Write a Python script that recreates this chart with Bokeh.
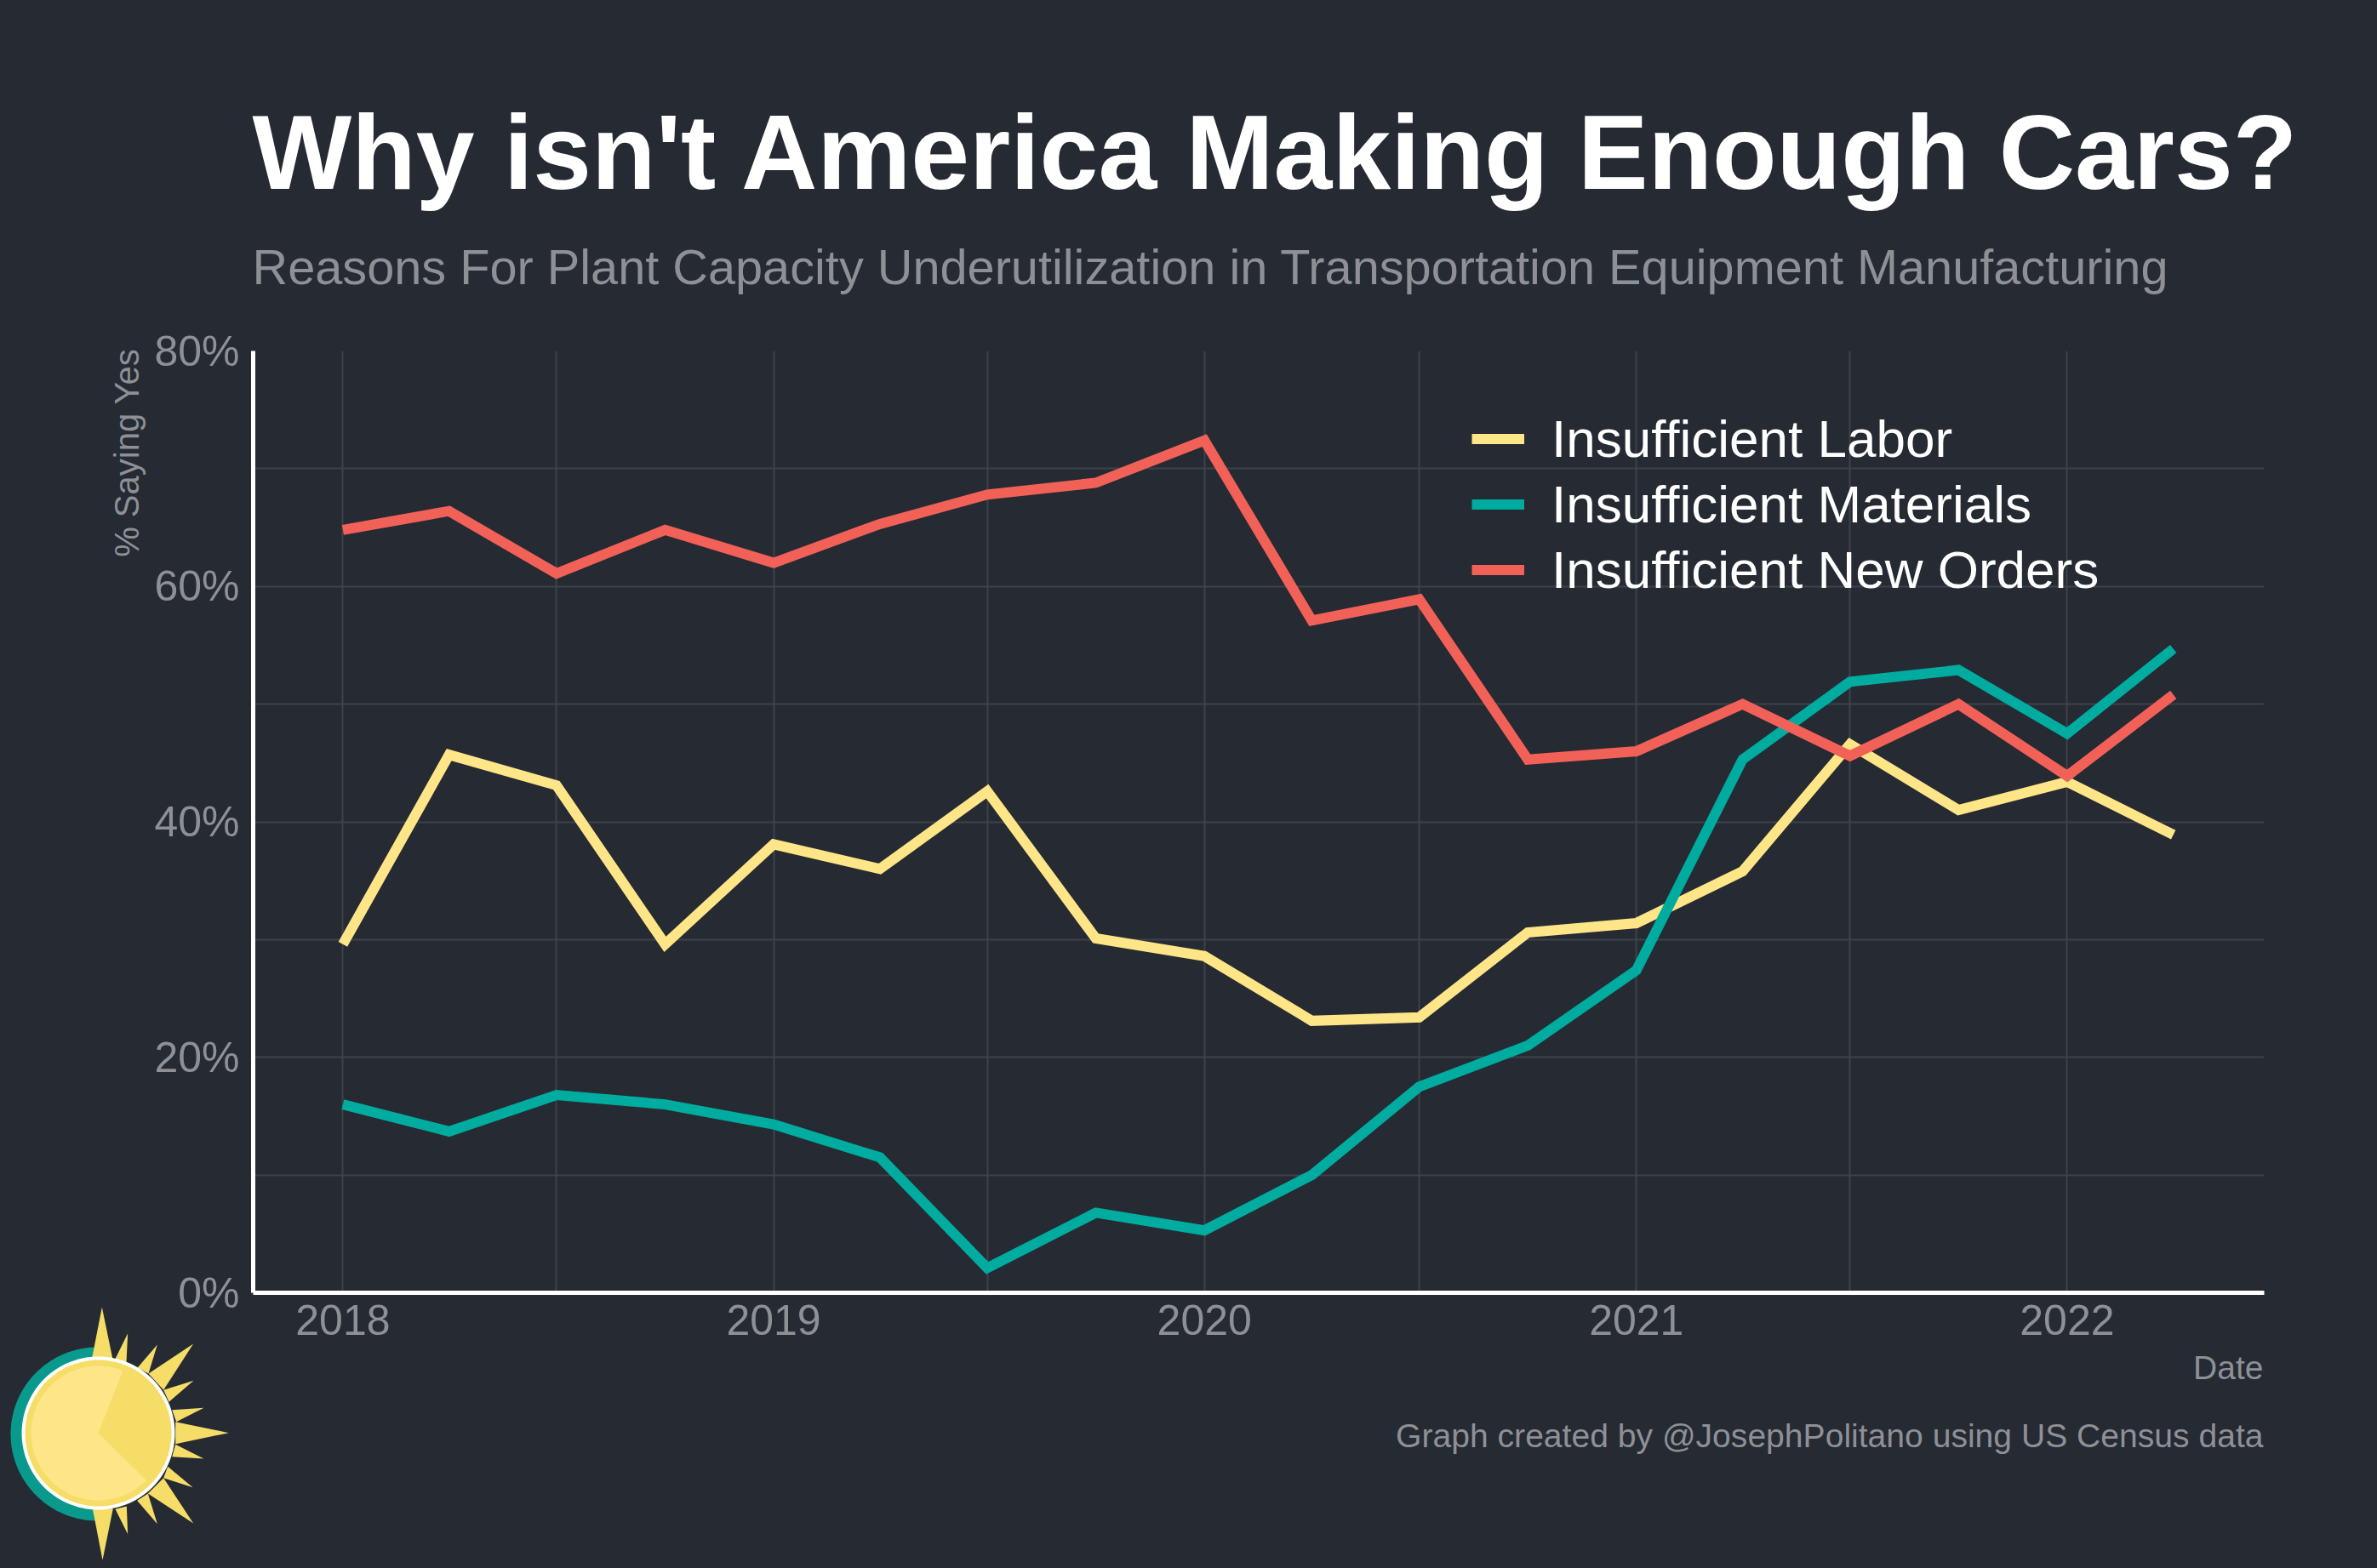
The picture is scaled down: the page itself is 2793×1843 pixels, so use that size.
import numpy as np
import pandas as pd
from bokeh.core.properties import value
from bokeh.embed import file_html
from bokeh.layouts import column
from bokeh.resources import INLINE
from bokeh.plotting import figure
from bokeh.models import (ColumnDataSource, FixedTicker, Legend, LegendItem,
                          PrintfTickFormatter, DatetimeTickFormatter, Range1d)

quarters = ["2018-01-01", "2018-04-01", "2018-07-01", "2018-10-01",
            "2019-01-01", "2019-04-01", "2019-07-01", "2019-10-01",
            "2020-01-01", "2020-04-01", "2020-07-01", "2020-10-01",
            "2021-01-01", "2021-04-01", "2021-07-01", "2021-10-01",
            "2022-01-01", "2022-04-01"]
labor = [29.6, 45.7, 43.1, 29.6, 38.1, 36.0, 42.6, 30.1, 28.6, 23.1, 23.4, 30.6,
         31.4, 35.8, 46.6, 41.0, 43.4, 38.9]
materials = [16.0, 13.7, 16.8, 16.0, 14.3, 11.5, 2.1, 6.8, 5.3, 10.0, 17.5, 21.0,
             27.4, 45.3, 51.9, 52.9, 47.5, 54.7]
new_orders = [64.8, 66.4, 61.1, 64.8, 62.0, 65.3, 67.8, 68.8, 72.4, 57.1, 58.9, 45.3,
              46.0, 50.0, 45.6, 50.0, 43.9, 50.8]
series_names = ["Insufficient Labor", "Insufficient Materials", "Insufficient New Orders"]
year_ticks = ["2018-01-01", "2019-01-01", "2020-01-01", "2021-01-01", "2022-01-01"]
half_ticks = ["2018-07-01", "2019-07-01", "2020-07-01", "2021-07-01"]
pct_ticks = [0, 20, 40, 60, 80]
pct_minor = [10, 30, 50, 70]

TITLE = "Why isn't America Making Enough Cars?"
SUBTITLE = "Reasons For Plant Capacity Underutilization in Transportation Equipment Manufacturing"
CAPTION = "Graph created by @JosephPolitano using US Census data"
X_LABEL = "Date"
Y_LABEL = "% Saying Yes"

BG = "#252a33"
GRID = "#3e424b"
GREY = "#8e9096"
YELLOW = "#fee587"
TEAL = "#00ab9f"
RED = "#f26158"
FONT = "Liberation Sans"

L, T, R, B = 297, 412, 2660, 1519   # frame edges on the page
W, H = 2793, 1843

def ms(d):
    return pd.Timestamp(d).value / 1e6

p = figure(width=W, height=H, output_backend="svg", toolbar_location=None,
           x_axis_type="datetime",
           x_range=Range1d(ms("2017-10-17"), ms("2022-06-17")),
           y_range=Range1d(0, 80), frame_align=False,
           min_border_left=L, min_border_right=W-R, min_border_top=T, min_border_bottom=H-B,
           background_fill_color=BG, border_fill_color=BG, outline_line_color=None)

src = ColumnDataSource(dict(date=pd.to_datetime(quarters), labor=labor,
                            materials=materials, orders=new_orders))
kw = dict(line_width=12, line_join="miter", line_cap="butt")
r1 = p.line("date", "labor", source=src, line_color=YELLOW, **kw)
r2 = p.line("date", "materials", source=src, line_color=TEAL, **kw)
r3 = p.line("date", "orders", source=src, line_color=RED, **kw)

xa, ya = p.xaxis[0], p.yaxis[0]
xa.ticker = FixedTicker(ticks=[ms(d) for d in year_ticks], minor_ticks=[ms(d) for d in half_ticks])
ya.ticker = FixedTicker(ticks=pct_ticks, minor_ticks=pct_minor)
xa.formatter = DatetimeTickFormatter(years="%Y", months="%Y", days="%Y", hours="%Y",
                                     minutes="%Y", seconds="%Y", milliseconds="%Y")
ya.formatter = PrintfTickFormatter(format="%d%%")
for ax in (xa, ya):
    ax.axis_line_color = "white"
    ax.axis_line_width = 5
    ax.major_tick_line_color = None
    ax.minor_tick_line_color = None
    ax.major_label_text_color = GREY
    ax.major_label_text_font = FONT
    ax.major_label_text_font_size = "50px"
xa.major_label_standoff = 8
ya.major_label_standoff = 10

for g in (p.xgrid[0], p.ygrid[0]):
    g.grid_line_color = GRID
    g.grid_line_width = 2
    g.minor_grid_line_color = GRID
    g.minor_grid_line_width = 2

legend = Legend(items=[LegendItem(label=series_names[0], renderers=[r1]),
                       LegendItem(label=series_names[1], renderers=[r2]),
                       LegendItem(label=series_names[2], renderers=[r3])],
                location=(1729-L, B-708), background_fill_alpha=0, border_line_color=None,
                label_text_color="white", label_text_font=FONT, label_text_font_size="62px",
                glyph_width=62, glyph_height=77, label_height=77, label_standoff=32,
                spacing=0, margin=0, padding=0)
p.add_layout(legend)

# Transparent page-sized layer for the titles, caption, axis names and logo
ov = figure(width=W, height=H, output_backend="svg", toolbar_location=None,
            x_range=Range1d(0, W), y_range=Range1d(H, 0), frame_align=False,
            x_axis_location=None, y_axis_location=None,
            min_border_left=0, min_border_right=0, min_border_top=0, min_border_bottom=0,
            background_fill_alpha=0, border_fill_alpha=0, outline_line_color=None,
            margin=(-H, 0, 0, 0))
ov.grid.visible = False

BASE = 0.35  # the glyph's alphabetic baseline sits this many em below its anchor

def text(x, y, s, size, color, align="left", style="normal", angle=0):
    d = BASE * size
    px, py = (x - d, y) if angle else (x, y - d)
    ov.text([px], [py], text=[s], angle=angle, text_font=value(FONT),
            text_font_size=value(f"{size}px"), text_color=color, text_align=align,
            text_baseline="alphabetic", text_font_style=style)

text(296, 222, TITLE, 123.7, "white", style="bold")
text(296, 334, SUBTITLE, 57.7, GREY)
text(2659, 1701, CAPTION, 39.1, GREY, align="right")
text(2659, 1621, X_LABEL, 39, GREY, align="right")
text(162, 409, Y_LABEL, 40, GREY, align="right", angle=np.pi/2)

def poly(xs, ys, color):
    ov.patch(list(xs), list(ys), fill_color=color, line_color=None)

def disc(cx, cy, r, a0=0, a1=360, center=False):
    t = np.radians(np.linspace(a0, a1, 121))
    xs, ys = cx + r*np.cos(t), cy + r*np.sin(t)
    if center:
        xs, ys = np.r_[cx, xs], np.r_[cy, ys]
    return xs, ys

# Sun logo in zoom px (3x, origin at page 0,1480)
SUN = "#f5dd68"
def z(pts):
    a = np.array(pts, float)
    return a[:, 0]/3, a[:, 1]/3 + 1480

rays = [[(358,168),(322,352),(396,352)], [(449,260),(404,352),(444,362)],
        [(553,300),(483,382),(522,402)], [(680,297),(522,402),(575,460)],
        [(681,427),(575,460),(594,502)], [(717,523),(605,530),(620,572)],
        [(805,611),(617,572),(617,650)], [(717,702),(617,652),(605,695)],
        [(678,803),(590,730),(575,770)], [(680,930),(575,770),(520,825)],
        [(553,932),(520,825),(482,850)], [(449,968),(445,870),(405,880)],
        [(360,1060),(325,878),(397,878)]]
cx, cy = 115, 1684
xs, ys = disc(cx - 1, cy + 1, 102, 90, 270)
poly(xs, ys, "#0a9a8d")
for ray in rays:
    xs, ys = z(ray)
    poly(xs, ys, SUN)
poly(*disc(cx, cy, 90), "white")
poly(*disc(cx, cy, 86), SUN)
poly(*disc(cx, cy, 79), YELLOW)
a0 = np.degrees(np.arctan2(392-613, 432-345))
a1 = np.degrees(np.arctan2(780-613, 515-345))
poly(*disc(cx, cy, 79, a0, a1, center=True), SUN)

page = column(p, ov, spacing=0)
template = """{% block inner_head %}{{ super() }}<style>html,body{background:#252a33;}</style>{% endblock %}"""
open("out.html", "w").write(file_html(page, INLINE, template=template))
